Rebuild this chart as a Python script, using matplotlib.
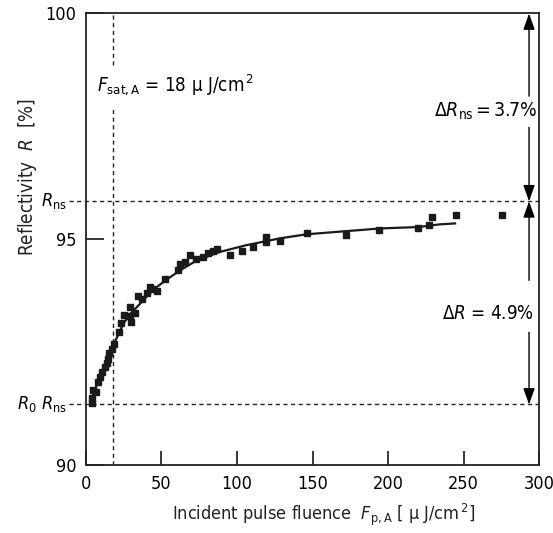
import matplotlib.pyplot as plt

plt.rcParams["font.family"] = ["DejaVu Sans"]
plt.rcParams["font.stretch"] = "condensed"
plt.rcParams["mathtext.fontset"] = "custom"
plt.rcParams["mathtext.rm"] = "DejaVu Sans:stretch=condensed"
plt.rcParams["mathtext.it"] = "DejaVu Sans:style=oblique:stretch=condensed"
plt.rcParams["mathtext.sf"] = "DejaVu Sans:stretch=condensed"

fluence_pts = [4.2, 4.2, 4.4, 6.6, 7.7, 9.3, 10.8, 12.6, 13.7, 14.4, 15.0, 17.4, 18.8,
               22.1, 23.0, 25.2, 29.1, 29.6, 29.1, 32.5, 34.2, 37.3, 40.2, 42.4, 43.5,
               47.2, 52.3, 60.7, 62.3, 65.6, 68.9, 72.8, 77.7, 81.0, 84.3, 86.5, 95.4,
               103.5, 110.4, 119.0, 119.0, 128.5, 146.2, 172.2, 194.0, 220.1, 227.4,
               229.4, 244.8, 275.7]
refl_pts = [91.37, 91.49, 91.67, 91.62, 91.84, 91.95, 92.06, 92.18, 92.26, 92.35, 92.47,
            92.56, 92.69, 92.94, 93.15, 93.33, 93.31, 93.17, 93.50, 93.37, 93.74, 93.67,
            93.81, 93.94, 93.89, 93.85, 94.11, 94.31, 94.45, 94.49, 94.66, 94.56, 94.61,
            94.70, 94.73, 94.79, 94.65, 94.73, 94.83, 94.93, 95.04, 94.96, 95.13, 95.10,
            95.20, 95.25, 95.31, 95.49, 95.53, 95.53]

# fitted curve
fit_fluence = [3.5, 6, 9.3, 13, 18.1, 24.7, 30, 35.8, 41, 46.8, 54, 62.3, 73.3, 88.7,
               106.4, 128.5, 146.2, 172.6, 195.4, 220.1, 234.4, 244.4]
fit_refl = [91.43, 91.68, 91.92, 92.25, 92.65, 93.13, 93.37, 93.57, 93.76, 93.94, 94.12,
            94.31, 94.53, 94.72, 94.87, 95.02, 95.11, 95.18, 95.24, 95.27, 95.33, 95.35]

R_ns = 95.84
R0_Rns = 91.34
F_sat = 18
arrow_x = 293.4

fig = plt.figure(figsize=(5.53, 5.33), dpi=100)
ax = fig.add_axes([0.1555, 0.1276, 0.8192, 0.8471])

ax.plot(fit_fluence, fit_refl, color="#1a1a1a", lw=1.6, zorder=3)
ax.plot(fluence_pts, refl_pts, "s", color="#1a1a1a", ms=4.3, mec="#1a1a1a", zorder=4)

dash = dict(color="#222222", lw=1.0, ls=(0, (3, 2.5)))
ax.plot([-11, 300], [R_ns, R_ns], clip_on=False, **dash)
ax.plot([-11, 300], [R0_Rns, R0_Rns], clip_on=False, **dash)
ax.plot([F_sat, F_sat], [90, 97.95], **dash)
ax.plot([F_sat, F_sat], [98.86, 100], **dash)

ahead = "-|>,head_length=0.7,head_width=0.25"
for y0, y1 in [(98.17, 100), (97.48, R_ns), (94.09, R_ns), (92.94, R0_Rns)]:
    ax.annotate("", xy=(arrow_x, y1), xytext=(arrow_x, y0),
                arrowprops=dict(arrowstyle=ahead, color="k", lw=1.0,
                                mutation_scale=14, shrinkA=0, shrinkB=0))

ax.text(299.2, 97.84, r"$\Delta\mathit{R}_{\mathrm{ns}}\,$=$\,$3.7%", ha="right",
        va="center", fontsize=14)
ax.text(297, 93.36, r"$\Delta\mathit{R}$ = 4.9%", ha="right", va="center", fontsize=13.5)
ax.text(7.0, 98.4, r"$\mathit{F}_{\mathrm{sat,A}}$ = 18 μ J/cm$^{\,2}$", ha="left",
        va="center", fontsize=13.5)

ax.text(-12.6, R_ns, r"$\mathit{R}_{\mathrm{ns}}$", ha="right", va="center", fontsize=13)
ax.text(-12.6, R0_Rns, r"$\mathit{R}_{0}\ \mathit{R}_{\mathrm{ns}}$", ha="right",
        va="center", fontsize=13)

ax.set_xlim(0, 300)
ax.set_ylim(90, 100)
ax.set_xticks([0, 50, 100, 150, 200, 250, 300])
ax.set_yticks([90, 95, 100])
ax.tick_params(axis="x", direction="in", length=10, width=1.1, pad=7, labelsize=13)
ax.tick_params(axis="y", direction="in", length=13, width=1.1, pad=7, labelsize=13)
for s in ax.spines.values():
    s.set_linewidth(1.3)
    s.set_color("#222222")

fig.text(28 / 553, 1 - 177 / 533, r"Reflectivity  $\mathit{R}$  [%]", rotation=90,
         ha="center", va="center", fontsize=13.5, color="#222222")
fig.text(324 / 553, 1 - 515 / 533,
         r"Incident pulse fluence  $\mathit{F}_{\mathrm{p,A}}$ [ μ J/cm$^{\,2}$]",
         ha="center", va="center", fontsize=13, color="#222222")

fig.savefig("out.png", dpi=100)
